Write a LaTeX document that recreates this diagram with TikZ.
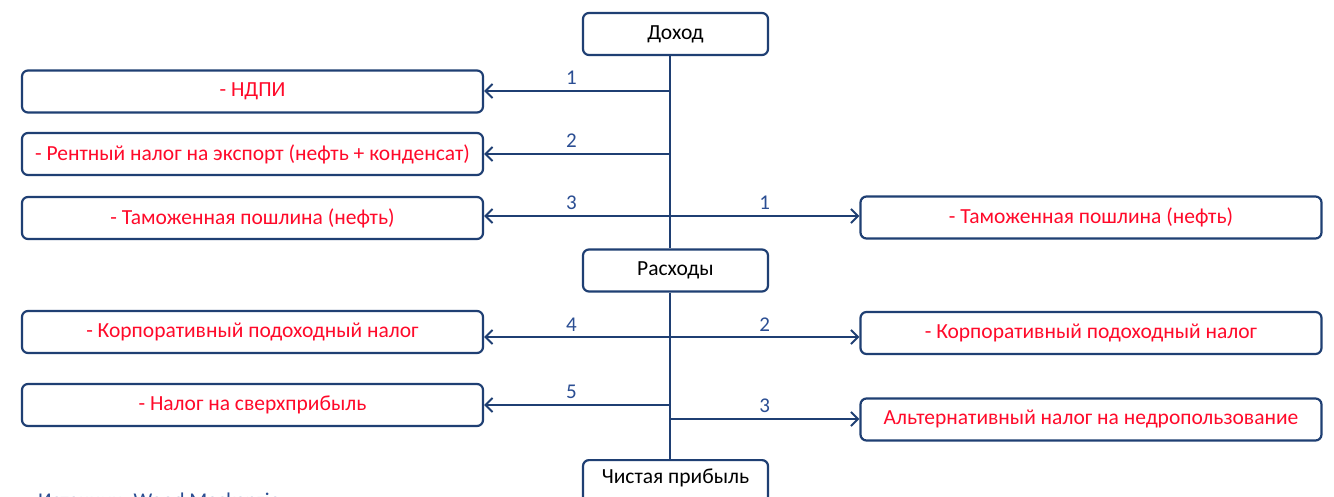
\documentclass[tikz,border=0pt]{standalone}
\usepackage{fontspec}
\setmainfont{Carlito}
\usetikzlibrary{arrows.meta}
\definecolor{lineblue}{HTML}{1F3F73}
\definecolor{numblue}{HTML}{2B4E93}
\definecolor{txtred}{HTML}{FF0A2A}
\tikzset{
  x=1pt,y=-1pt,
  box/.style={draw=lineblue,line width=2.2pt,rounded corners=6pt,fill=white,
    inner sep=0pt,font=\fontsize{21.5}{24}\selectfont},
  mainbox/.style={box,minimum width=185pt,minimum height=42pt,text=black},
  leftbox/.style={box,minimum width=461pt,minimum height=42pt,text=txtred},
  conn/.style={draw=lineblue,line width=2pt},
  arr/.style={conn,-{Straight Barb[length=7pt,width=14pt,line width=2pt]}},
  num/.style={text=numblue,font=\fontsize{21}{24}\selectfont,inner sep=0pt},
}
\begin{document}
\begin{tikzpicture}
\clip (0,0) rectangle (1334,497);
\useasboundingbox (0,0) rectangle (1334,497);
\fill[white] (0,0) rectangle (1334,497);
% main boxes
\node[mainbox] (dokhod) at (675.5,34) {Доход};
\node[mainbox] (raskhody) at (675.5,270.5) {Расходы};
\node[mainbox,minimum height=52pt,anchor=north] (pribyl) at (675.5,459) {};
\node[font=\fontsize{21.5}{24}\selectfont,inner sep=0pt] (pribyltxt) at (675.5,478) {Чистая прибыль};
% spine
\coordinate (s0) at (670,55);
\draw[conn] (dokhod.south -| s0) -- (raskhody.north -| s0);
\draw[conn] (raskhody.south -| s0) -- (pribyl.north -| s0);
% left boxes
\node[leftbox] (l1) at (252.5,91.5) {- НДПИ};
\node[leftbox] (l2) at (252.5,154) {- Рентный налог на экспорт (нефть + конденсат)};
\node[leftbox] (l3) at (252.5,218) {- Таможенная пошлина (нефть)};
\node[leftbox] (l4) at (252.5,332) {- Корпоративный подоходный налог};
\node[leftbox] (l5) at (252.5,405) {- Налог на сверхприбыль};
% right boxes
\node[leftbox] (r1) at (1091,217.5) {- Таможенная пошлина (нефть)};
\node[leftbox] (r2) at (1091,333) {- Корпоративный подоходный налог};
\node[leftbox] (r3) at (1091,419.5) {Альтернативный налог на недропользование};
% spine points
\coordinate (p1) at (670,91);
\coordinate (p2) at (670,154);
\coordinate (p3) at (670,216);
\coordinate (p4) at (670,337);
\coordinate (p5) at (670,405);
\coordinate (q3) at (670,419);
% arrows left
\draw[arr] (p1) -- (p1 -| l1.east) node[num,pos=0.53,above=5pt] (n1) {1};
\draw[arr] (p2) -- (p2 -| l2.east) node[num,pos=0.53,above=5pt] (n2) {2};
\draw[arr] (p3) -- (p3 -| l3.east) node[num,pos=0.53,above=5pt] (n3) {3};
\draw[arr] (p4) -- (p4 -| l4.east) node[num,pos=0.53,above=5pt] (n4) {4};
\draw[arr] (p5) -- (p5 -| l5.east) node[num,pos=0.53,above=5pt] (n5) {5};
% arrows right
\draw[arr] (p3) -- (p3 -| r1.west) node[num,pos=0.5,above=5pt] (m1) {1};
\draw[arr] (p4) -- (p4 -| r2.west) node[num,pos=0.5,above=5pt] (m2) {2};
\draw[arr] (q3) -- (q3 -| r3.west) node[num,pos=0.5,above=5pt] (m3) {3};
% source (cut off at bottom, as in the reference)
\node[anchor=north west,inner sep=0pt,text=numblue,font=\fontsize{21}{23}\selectfont] (src) at (38,493) {Источник: Wood Mackenzie};
\end{tikzpicture}
\end{document}
